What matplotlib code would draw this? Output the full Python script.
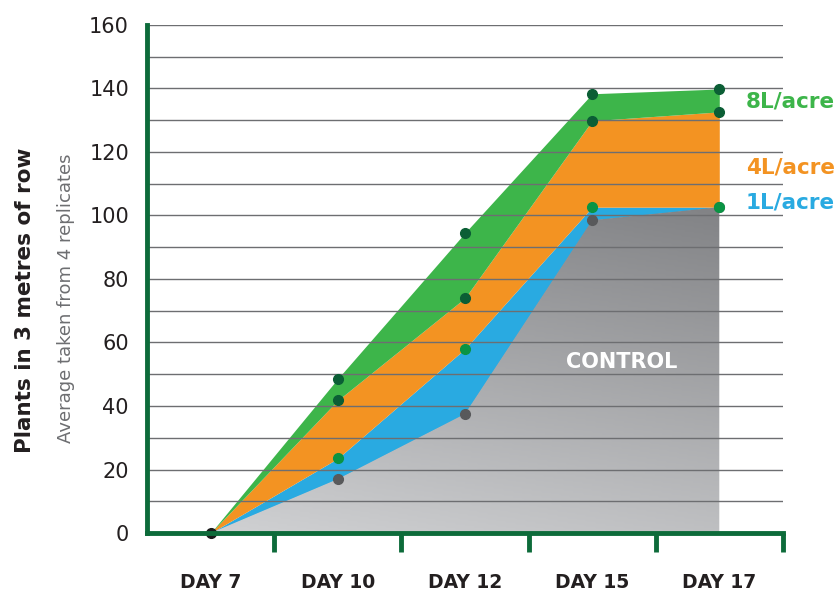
import matplotlib.pyplot as plt
import numpy as np
from matplotlib.colors import LinearSegmentedColormap
from matplotlib.ticker import MultipleLocator, FixedLocator

days = ['DAY 7', 'DAY 10', 'DAY 12', 'DAY 15', 'DAY 17']
control = [0, 17, 37.5, 98.5, 102.6]
rate_1l = [0, 23.5, 58, 102.6, 102.6]
rate_4l = [0, 41.8, 74, 129.8, 132.6]
rate_8l = [0, 48.6, 94.5, 138.3, 139.8]

series_names = ['1L/acre', '4L/acre', '8L/acre']
label_y = [104, 115, 136]

dark_green = '#0d6b3a'
green = '#3db54a'
orange = '#f39322'
blue = '#29aae1'
grid_col = '#6d6e71'


def main():
    my_dpi = 100
    fig = plt.figure(figsize=(840 / my_dpi, 591 / my_dpi), dpi=my_dpi)
    ax = fig.add_axes([0.175, 0.098, 0.757, 0.860])

    x = np.arange(len(days))

    # stacked bands
    ctrl_poly = ax.fill_between(x, 0, control, color='none', lw=0, zorder=1)
    ax.fill_between(x, control, rate_1l, color=blue, lw=0, zorder=1)
    ax.fill_between(x, rate_1l, rate_4l, color=orange, lw=0, zorder=1)
    ax.fill_between(x, rate_4l, rate_8l, color=green, lw=0, zorder=1)

    # gradient for the control area
    gx, gy = np.meshgrid(np.linspace(0, 1, 200), np.linspace(0, 1, 200))
    grad = 0.75 * gy + 0.25 * (1 - gx)
    cmap = LinearSegmentedColormap.from_list('g', ['#7b7c7f', '#d2d3d5'])
    img = ax.imshow(grad, extent=[-0.5, 4.5, 0, 110], origin='upper',
                    cmap=cmap, aspect='auto', zorder=1)
    img.set_clip_path(ctrl_poly.get_paths()[0], transform=ax.transData)

    # dots
    dot_sets = [(control, '#58595b'), (rate_1l, '#0a9444'),
                (rate_4l, '#0b5e35'), (rate_8l, '#0b5e35')]
    for vals, col in dot_sets:
        ax.plot(x[1:], vals[1:], 'o', color=col, ms=7, zorder=4)
    ax.plot(x[0], control[0], 'o', color='#1a1a1a', ms=7, zorder=4, clip_on=False)

    ax.set_xlim(-0.5, 4.5)
    ax.set_ylim(0, 160)

    ax.yaxis.set_major_locator(MultipleLocator(20))
    ax.yaxis.set_minor_locator(MultipleLocator(10))
    ax.grid(True, which='both', axis='y', color=grid_col, lw=1)
    ax.set_axisbelow(False)
    ax.tick_params(axis='y', which='both', length=0, pad=13, labelsize=15,
                   labelcolor='#231f20')

    ax.xaxis.set_major_locator(FixedLocator(x))
    ax.set_xticklabels(days, fontsize=13.5, fontweight='bold', color='#231f20')
    ax.xaxis.set_minor_locator(FixedLocator(x + 0.5))
    ax.tick_params(axis='x', which='major', length=0, pad=29)
    ax.tick_params(axis='x', which='minor', length=14, width=3.5,
                   color=dark_green, direction='out')

    for side in ['top', 'right']:
        ax.spines[side].set_visible(False)
    for side in ['left', 'bottom']:
        ax.spines[side].set_color(dark_green)
        ax.spines[side].set_linewidth(3.5)
        ax.spines[side].set_zorder(5)

    # right-hand labels
    for name, yv, col in zip(series_names, label_y, [blue, orange, green]):
        ax.text(4.21, yv, name, color=col, fontsize=15.5, fontweight='bold',
                va='center', ha='left', clip_on=False)

    ax.text(3.23, 54, 'CONTROL', color='white', fontsize=15, fontweight='bold',
            ha='center', va='center', zorder=3)

    fig.text(0.030, 0.492, 'Plants in 3 metres of row', rotation=90, fontsize=15.5,
             fontweight='bold', color='#231f20', ha='center', va='center')
    fig.text(0.078, 0.495, 'Average taken from 4 replicates', rotation=90,
             fontsize=13, color='#6d6e71', ha='center', va='center')

    plt.savefig('out.png', dpi=my_dpi)


if __name__ == '__main__':
    main()
